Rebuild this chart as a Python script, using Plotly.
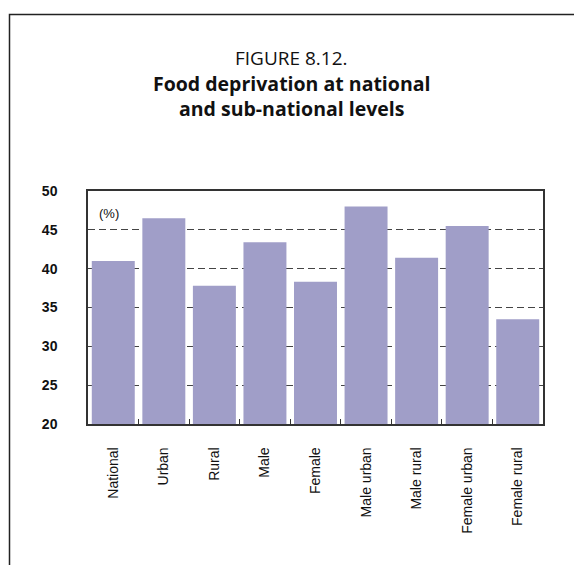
import plotly.graph_objects as go

categories = ["National", "Urban", "Rural", "Male", "Female",
              "Male urban", "Male rural", "Female urban", "Female rural"]
values = [41.0, 46.5, 37.8, 43.4, 38.3, 48.0, 41.4, 45.5, 33.5]
y_ticks = [20, 25, 30, 35, 40, 45, 50]

W, H = 582, 565
OFF = 8  # default page body margin
L, R, T, B = 88 - OFF, 47, 191 - OFF, 149
PW, PH = W - L - R, H - T - B

def px(x):
    return (x - OFF - L) / PW

def py(y):
    return (H - B - (y - OFF)) / PH

fig = go.Figure(go.Bar(
    x=categories, y=values,
    marker=dict(color="#A09EC8", line=dict(width=0)),
    hoverinfo="x+y",
))

fig.update_layout(
    width=W, height=H,
    margin=dict(l=L, r=R, t=T, b=B),
    paper_bgcolor="white", plot_bgcolor="white",
    bargap=0.15,
    showlegend=False,
    font=dict(family="Liberation Sans, Arial, sans-serif", color="#111"),
)

fig.update_xaxes(
    type="category",
    showline=True, linecolor="#333", linewidth=1.5, mirror=True,
    ticks="inside", tickson="boundaries", ticklen=5, tickcolor="#333",
    tickangle=-90, tickfont=dict(size=14, family="Liberation Sans, Arial, sans-serif", color="#111"),
    ticklabelstandoff=16,
    showgrid=False,
)
fig.update_yaxes(
    range=[20, 50],
    tickvals=y_ticks, ticktext=[str(v) for v in y_ticks],
    showline=True, linecolor="#333", linewidth=1.5, mirror=True,
    ticks="", showgrid=True, gridcolor="#444", gridwidth=1.2, griddash="7px,4px",
    tickfont=dict(size=14, family="Liberation Sans Narrow, Arial Narrow, Liberation Sans, sans-serif", color="#111", weight="bold"),
    ticklabelstandoff=26,
    layer="below traces",
)

fig.add_annotation(x=px(97), y=py(213), xref="paper", yref="paper",
                   text="(%)", showarrow=False, xanchor="left", yanchor="middle",
                   font=dict(size=13, family="Liberation Sans, Arial, sans-serif", color="#111"))

title_font = "Open Sans, Noto Sans, sans-serif"
fig.add_annotation(x=px(291), y=py(58), xref="paper", yref="paper",
                   text="FIGURE 8.12.", showarrow=False, xanchor="center", yanchor="middle",
                   font=dict(size=19, family=title_font, color="#111"))
fig.add_annotation(x=px(291), y=py(96), xref="paper", yref="paper",
                   text="<b>Food deprivation at national<br>and sub-national levels</b>",
                   showarrow=False, xanchor="center", yanchor="middle", align="center",
                   font=dict(size=19.5, family=title_font, color="#111"))

# outer figure frame
fig.add_shape(type="rect", xref="paper", yref="paper",
              x0=px(9.5), x1=px(W + 30), y0=py(14.5), y1=py(H + 30),
              line=dict(color="#222", width=1.5), fillcolor="rgba(0,0,0,0)", layer="below")

fig.write_html("out.html")
